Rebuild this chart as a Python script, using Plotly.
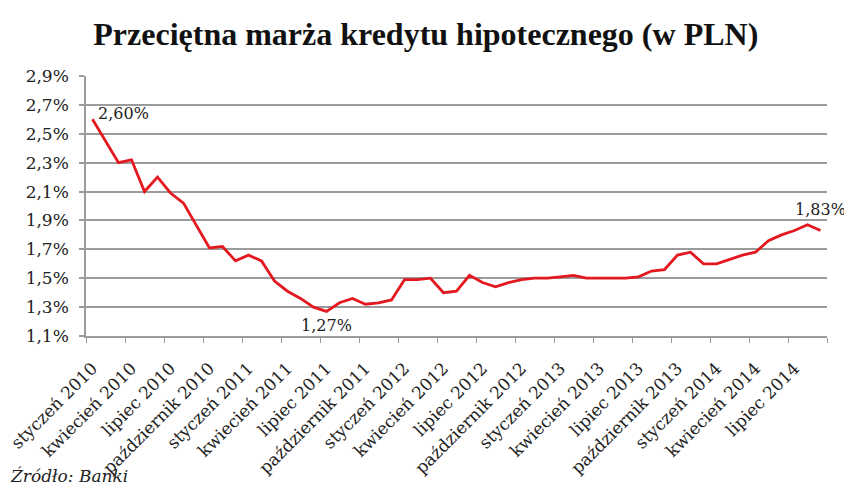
import plotly.graph_objects as go

months = ["styczeń", "luty", "marzec", "kwiecień", "maj", "czerwiec", "lipiec",
          "sierpień", "wrzesień", "październik", "listopad", "grudzień"]
years = [2010, 2011, 2012, 2013, 2014]
categories = [f"{m} {y}" for y in years for m in months][:57]

margin_pct = [2.60, 2.45, 2.30, 2.32, 2.10, 2.20, 2.09, 2.02, 1.87, 1.71,
              1.72, 1.62, 1.66, 1.62, 1.48, 1.41, 1.36, 1.30, 1.27, 1.33,
              1.36, 1.32, 1.33, 1.35, 1.49, 1.49, 1.50, 1.40, 1.41, 1.52,
              1.47, 1.44, 1.47, 1.49, 1.50, 1.50, 1.51, 1.52, 1.50, 1.50,
              1.50, 1.50, 1.51, 1.55, 1.56, 1.66, 1.68, 1.60, 1.60, 1.63,
              1.66, 1.68, 1.76, 1.80, 1.83, 1.87, 1.83]

y_ticks = [1.1, 1.3, 1.5, 1.7, 1.9, 2.1, 2.3, 2.5, 2.7, 2.9]
y_ticktext = ["1,1%", "1,3%", "1,5%", "1,7%", "1,9%", "2,1%", "2,3%", "2,5%", "2,7%", "2,9%"]

labelled = [(0, "2,60%"), (18, "1,27%"), (56, "1,83%")]

x = list(range(len(categories)))
x_tickvals = x[::3]
x_ticktext = categories[::3]

serif = "DejaVu Serif"
grid = "#9b9b9b"

fig = go.Figure()
fig.add_trace(go.Scatter(x=x, y=margin_pct, mode="lines",
                         line=dict(color="#e3191f", width=2.8),
                         hoverinfo="skip", showlegend=False, cliponaxis=False))

ann_style = {
    0: dict(xanchor="left", yanchor="middle", xshift=3, yshift=6),
    18: dict(xanchor="center", yanchor="middle", yshift=-14),
    56: dict(xanchor="center", yanchor="middle", yshift=21),
}
for i, txt in labelled:
    fig.add_annotation(x=x[i], y=margin_pct[i], text=txt, showarrow=False,
                       font=dict(family=serif, size=16, color="#222"),
                       **ann_style[i])

fig.add_annotation(xref="paper", yref="paper", x=-0.105, y=-0.537,
                   text="<i>Źródło: Banki</i>", showarrow=False,
                   xanchor="left", yanchor="middle",
                   font=dict(family=serif, size=17, color="#222"))

# the page body adds an 8px offset, so the figure is sized 844x487
fig.update_layout(
    width=844, height=487,
    margin=dict(l=78, r=25, t=68, b=159, autoexpand=False),
    paper_bgcolor="white", plot_bgcolor="white",
    title=dict(text="<b>Przeciętna marża kredytu hipotecznego (w PLN)</b>",
               x=0.495, xref="container", xanchor="center", y=0.948, yanchor="middle",
               font=dict(family="Liberation Serif", size=32, color="#111")),
    xaxis=dict(range=[-0.5, len(categories) - 0.5], tickmode="array",
               tickvals=x_tickvals, ticktext=x_ticktext, tickangle=-45,
               ticks="", showgrid=False, zeroline=False, automargin=False,
               showline=True, linecolor=grid, linewidth=1.5,
               tickfont=dict(family=serif, size=17, color="#222"),
               ticklabelstandoff=14, ticklabeloverflow="allow",
               minor=dict(tick0=-0.5, dtick=3, ticks="outside", ticklen=5,
                          tickcolor=grid, tickwidth=1.2, showgrid=False)),
    yaxis=dict(range=[1.1, 2.9], tickmode="array", tickvals=y_ticks,
               ticktext=y_ticktext, showgrid=True, gridcolor=grid, gridwidth=1.5,
               zeroline=False, showline=True, linecolor=grid, linewidth=1.5,
               ticks="outside", ticklen=5, tickcolor=grid, tickwidth=1.5,
               ticklabelstandoff=7, automargin=False, ticklabeloverflow="allow",
               tickfont=dict(family=serif, size=17, color="#222")),
)

fig.write_html("out.html")
